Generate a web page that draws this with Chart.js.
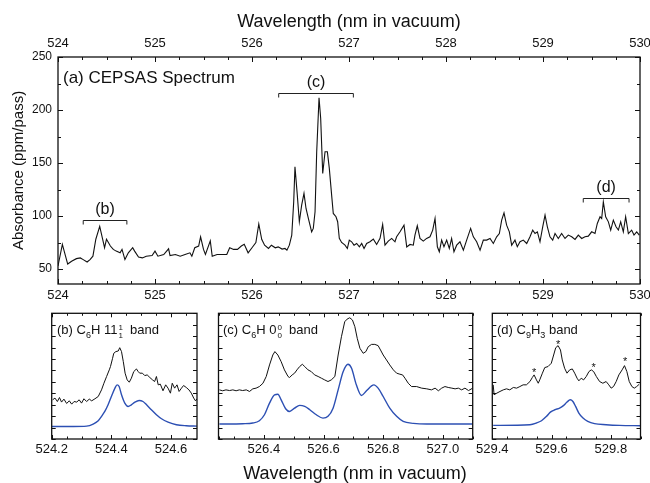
<!DOCTYPE html>
<html>
<head>
<meta charset="utf-8">
<script src="https://cdn.jsdelivr.net/npm/chart.js@4.4.1/dist/chart.umd.min.js"></script>
<style>
body { margin: 0; background: #fff; font-family: "Liberation Sans", Arial, sans-serif; }
#wrap { position: relative; width: 650px; height: 483px; overflow: hidden; }
canvas { position: absolute; }
.lbl { position: absolute; white-space: nowrap; color: #111; line-height: 1; }
.lbl sub { font-size: 9px; vertical-align: -4px; line-height: 0; }
.ss { display: inline-block; vertical-align: -4px; font-size: 8px; line-height: 8px; text-align: center; margin-left: 1px; }
.ss span { display: block; }
</style>
</head>
<body>
<div id="wrap">
  <canvas id="main" width="650" height="310" style="left:0;top:0"></canvas>
  <canvas id="insetB" width="190" height="160" style="left:30px;top:300px"></canvas>
  <canvas id="insetC" width="300" height="160" style="left:196px;top:300px"></canvas>
  <canvas id="insetD" width="180" height="160" style="left:470px;top:300px"></canvas>

  <div class="lbl" style="left:63px;top:69px;font-size:17px">(a) CEPSAS Spectrum</div>
  <div class="lbl" style="left:57px;top:323px;font-size:13px">(b) C<sub>6</sub>H 11<span class="ss"><span>1</span><span>1</span></span>&nbsp; band</div>
  <div class="lbl" style="left:223px;top:323px;font-size:13px">(c) C<sub>6</sub>H 0<span class="ss"><span>0</span><span>0</span></span>&nbsp; band</div>
  <div class="lbl" style="left:497px;top:323px;font-size:13px">(d) C<sub>9</sub>H<sub>3</sub> band</div>
  <div class="lbl" style="left:355px;top:464px;font-size:18px;transform:translateX(-50%)">Wavelength (nm in vacuum)</div>
</div>

<script>
// (a) full CEPSAS spectrum
const mainWl = [
  524.00, 524.045, 524.10, 524.14, 524.19, 524.23, 524.26, 524.30, 524.33, 524.36,
  524.39, 524.43, 524.46, 524.48, 524.50, 524.54, 524.57, 524.60, 524.64, 524.66,
  524.69, 524.725, 524.77, 524.79, 524.83, 524.87, 524.91, 524.97, 525.00, 525.03,
  525.09, 525.14, 525.155, 525.21, 525.26, 525.31, 525.36, 525.38, 525.41, 525.45,
  525.47, 525.50, 525.52, 525.57, 525.59, 525.64, 525.69, 525.74, 525.77, 525.81,
  525.85, 525.89, 525.92, 525.96, 526.00, 526.04, 526.07, 526.10,
  526.13, 526.17, 526.20, 526.24, 526.27, 526.31, 526.34, 526.36, 526.385, 526.41,
  526.43, 526.443, 526.467, 526.488, 526.512, 526.536, 526.557, 526.581, 526.598, 526.615,
  526.632, 526.65, 526.667, 526.691, 526.708, 526.729, 526.753, 526.777, 526.797, 526.821,
  526.838, 526.866, 526.883, 526.90, 526.924, 526.959, 526.983, 527.003, 527.027, 527.052,
  527.079, 527.107, 527.131, 527.155, 527.182, 527.216, 527.251, 527.285, 527.32, 527.347,
  527.371, 527.405, 527.44, 527.474, 527.491, 527.526, 527.567, 527.595, 527.629, 527.663,
  527.68, 527.704, 527.732, 527.766, 527.80,
  527.835, 527.863, 527.887, 527.911, 527.931, 527.955, 527.979, 528.007, 528.034, 528.058,
  528.082, 528.11, 528.144, 528.179, 528.213, 528.254, 528.282, 528.316, 528.351, 528.385,
  528.419, 528.454, 528.488, 528.522, 528.55, 528.574, 528.598, 528.625, 528.653, 528.677,
  528.711, 528.735, 528.763, 528.797, 528.832, 528.866, 528.894, 528.918, 528.942, 528.969,
  528.997, 529.021, 529.045, 529.072, 529.10, 529.124, 529.158, 529.192, 529.227, 529.261,
  529.296, 529.33, 529.364, 529.399, 529.433, 529.467, 529.502, 529.536, 529.56, 529.588,
  529.605, 529.622, 529.646, 529.674, 529.698, 529.725, 529.753, 529.777, 529.801, 529.828,
  529.852, 529.88, 529.914, 529.938, 529.966, 529.993
];
const mainAbs = [
  53.0, 73.4, 54.8, 57.4, 59.9, 60.6, 59.0, 56.7, 59.0, 62.2,
  78.2, 90.4, 78.2, 70.2, 78.2, 71.8, 68.6, 67.0, 65.4, 68.6,
  59.0, 65.4, 70.2, 67.0, 61.5, 60.6, 62.2, 62.8, 67.0, 62.2,
  63.8, 69.2, 62.8, 63.8, 62.2, 63.8, 65.4, 62.2, 70.2, 71.8,
  80.4, 68.6, 63.8, 76.6, 62.2, 63.8, 63.8, 63.8, 70.2, 68.6,
  68.6, 71.8, 73.4, 65.4, 70.2, 75.0, 92.6, 78.2,
  72.6, 69.5, 72.6, 70.1, 71.0, 68.9, 69.5, 67.9, 72.6, 82.1,
  113.5, 146.5, 119.8, 94.7, 110.4, 121.4, 107.2, 97.8, 91.5, 85.2,
  88.4, 104.1, 160.7, 211.6, 192.2, 140.2, 160.7, 160.7, 145.0, 119.8,
  102.5, 99.4, 94.7, 79.0, 75.2, 72.6, 69.5, 77.4, 75.8, 72.6,
  74.2, 71.0, 74.2, 69.5, 74.2, 75.8, 78.3, 73.3, 79.0, 92.1,
  72.6, 76.4, 79.0, 75.8, 80.5, 85.2, 91.5, 71.0, 73.3, 72.6,
  82.1, 90.9, 79.0, 76.4, 79.0,
  80.5, 86.8, 97.8, 71.1, 66.4, 77.4, 71.1, 77.4, 69.5, 78.9,
  66.4, 72.6, 75.8, 67.9, 77.4, 88.4, 80.5, 75.8, 67.9, 77.4,
  77.4, 78.9, 74.2, 80.5, 83.6, 96.2, 103.1, 91.5, 85.2, 72.6,
  77.4, 71.1, 75.8, 77.4, 74.2, 80.5, 86.8, 83.6, 85.2, 75.8,
  89.9, 100.9, 89.9, 80.5, 77.4, 83.6, 78.9, 83.6, 78.9, 82.1,
  80.5, 78.0, 82.1, 78.9, 80.5, 81.1, 85.2, 83.6, 93.1, 99.4,
  97.8, 113.5, 99.4, 94.6, 86.8, 96.2, 89.9, 86.8, 94.6, 85.2,
  99.4, 83.6, 86.8, 82.1, 85.2, 82.1
];
const mainXTicks = [524, 525, 526, 527, 528, 529, 530];
const mainYTicks = [50, 100, 150, 200, 250];

// bracket marks over the three zoomed bands
const bracketLabels = ['(b)', '(c)', '(d)'];
const bracketStart = [524.26, 526.275, 529.415];
const bracketEnd = [524.71, 527.045, 529.887];
const bracketLevel = [96, 216, 117];

// (b) C6H 11^1_1 band: measured and simulated
const bWl = [
  524.203, 524.211, 524.219, 524.226, 524.233, 524.241, 524.25, 524.259, 524.267, 524.275,
  524.284, 524.292, 524.30, 524.308, 524.317, 524.326, 524.334, 524.345, 524.356, 524.367,
  524.375, 524.384, 524.393, 524.397, 524.404, 524.408, 524.415, 524.423, 524.428, 524.434,
  524.44, 524.446, 524.453, 524.46, 524.467, 524.475, 524.484, 524.49, 524.495, 524.504,
  524.512, 524.52, 524.529, 524.538, 524.545, 524.551, 524.557, 524.564, 524.573, 524.582,
  524.59, 524.598, 524.604, 524.612, 524.62, 524.627, 524.635, 524.642, 524.651, 524.66,
  524.668, 524.676, 524.682, 524.687
];
const bObs = [
  3.43, 3.58, 3.28, 3.63, 3.23, 3.49, 3.11, 3.34, 3.05, 3.28,
  3.23, 3.43, 3.14, 3.52, 3.28, 3.49, 3.34, 3.52, 3.72, 4.30,
  4.88, 5.47, 6.05, 6.34, 7.06, 7.50, 7.65, 7.70, 7.99, 7.65,
  6.77, 5.76, 5.17, 4.97, 5.32, 5.90, 6.13, 5.90, 5.76, 5.76,
  5.55, 5.61, 5.38, 5.17, 5.03, 5.47, 4.74, 4.80, 4.22, 4.74,
  4.45, 4.01, 4.88, 4.45, 4.74, 4.16, 4.45, 4.68, 4.51, 4.30,
  4.01, 3.58, 3.34, 3.52
];
const bSimWl = [
  524.2, 524.272, 524.317, 524.339, 524.356, 524.367, 524.378, 524.389, 524.40, 524.412,
  524.419, 524.426, 524.434, 524.445, 524.456, 524.467, 524.479, 524.493, 524.506, 524.518,
  524.534, 524.551, 524.568, 524.59, 524.618, 524.651, 524.687
];
const bSim = [
  1.10, 1.10, 1.13, 1.31, 1.60, 1.98, 2.41, 2.99, 3.72, 4.45,
  4.74, 4.59, 3.87, 3.14, 2.85, 2.99, 3.23, 3.37, 3.28, 2.99,
  2.56, 2.12, 1.77, 1.48, 1.25, 1.16, 1.13
];
const bXTicks = [524.2, 524.4, 524.6];

// (c) C6H 0^0_0 band
const cWl = [
  526.251, 526.262, 526.273, 526.285, 526.296, 526.307, 526.318, 526.329, 526.341, 526.352,
  526.363, 526.374, 526.385, 526.397, 526.408, 526.419, 526.43, 526.437, 526.447, 526.458,
  526.469, 526.481, 526.486, 526.495, 526.503, 526.511, 526.52, 526.529, 526.537, 526.548,
  526.559, 526.57, 526.582, 526.593, 526.604, 526.615, 526.626, 526.638, 526.649, 526.66,
  526.671, 526.679, 526.688, 526.697, 526.705, 526.713, 526.722, 526.733, 526.742, 526.75,
  526.761, 526.772, 526.783, 526.791, 526.80, 526.811, 526.822, 526.834, 526.845, 526.856,
  526.865, 526.873, 526.884, 526.895, 526.912, 526.929, 526.946, 526.962, 526.974, 526.985,
  526.996, 527.007, 527.018, 527.03, 527.041, 527.052, 527.063, 527.074, 527.086, 527.10
];
const cObs = [
  4.30, 4.22, 4.30, 4.24, 4.30, 4.22, 4.30, 4.24, 4.30, 4.16,
  4.39, 4.45, 4.59, 4.88, 5.47, 6.48, 7.35, 7.65, 7.35, 6.77,
  6.05, 5.47, 5.38, 5.61, 5.76, 6.05, 6.34, 6.54, 6.34, 6.05,
  5.90, 5.61, 5.47, 5.32, 5.17, 5.03, 5.17, 5.47, 7.35, 8.95,
  10.26, 10.49, 10.61, 10.41, 9.83, 8.81, 7.94, 7.50, 7.65, 8.08,
  8.28, 8.28, 8.17, 7.79, 7.35, 6.92, 6.48, 6.05, 5.76, 5.67,
  5.61, 5.32, 4.88, 4.59, 4.59, 4.45, 4.39, 4.30, 4.45, 4.22,
  4.45, 4.59, 4.51, 4.45, 4.39, 4.45, 4.30, 4.45, 4.24, 4.45
];
const cSimWl = [
  526.251, 526.329, 526.363, 526.385, 526.402, 526.419, 526.436, 526.447, 526.458, 526.473,
  526.486, 526.503, 526.52, 526.537, 526.554, 526.576, 526.598, 526.615, 526.632, 526.649,
  526.666, 526.682, 526.694, 526.71, 526.727, 526.744, 526.761, 526.769, 526.783, 526.80,
  526.822, 526.845, 526.867, 526.901, 526.946, 527.10
];
const cSim = [
  1.31, 1.34, 1.40, 1.60, 2.12, 3.14, 3.87, 3.92, 3.43, 2.65,
  2.41, 2.70, 2.94, 2.85, 2.56, 2.12, 1.83, 1.98, 2.70, 4.30,
  5.90, 6.54, 6.19, 4.74, 3.81, 4.22, 4.65, 4.74, 4.45, 3.72,
  2.70, 1.98, 1.54, 1.37, 1.31, 1.31
];
const cXTicks = [526.4, 526.6, 526.8, 527.0];

// (d) C9H3 band
const dWl = [
  529.403, 529.406, 529.415, 529.426, 529.437, 529.448, 529.459, 529.471, 529.482, 529.493,
  529.504, 529.515, 529.527, 529.535, 529.541, 529.549, 529.555, 529.56, 529.569, 529.577,
  529.588, 529.599, 529.607, 529.614, 529.622, 529.63, 529.636, 529.644, 529.652, 529.661,
  529.67, 529.678, 529.686, 529.692, 529.70, 529.708, 529.717, 529.726, 529.734, 529.742,
  529.751, 529.762, 529.773, 529.784, 529.793, 529.801, 529.809, 529.818, 529.827, 529.838,
  529.846, 529.854, 529.862, 529.871, 529.879, 529.887, 529.896
];
const dObs = [
  4.74, 3.87, 4.01, 4.16, 4.30, 4.39, 4.30, 4.51, 4.45, 4.59,
  4.74, 4.74, 5.03, 5.38, 5.61, 5.17, 4.88, 5.17, 5.76, 6.25,
  6.34, 6.63, 7.35, 7.99, 8.17, 7.79, 6.92, 6.19, 5.76, 6.05,
  6.13, 5.76, 5.32, 5.09, 5.32, 5.17, 5.47, 5.90, 6.05, 5.90,
  5.47, 5.03, 4.88, 5.03, 4.74, 4.45, 4.59, 5.03, 5.61, 6.05,
  6.42, 5.90, 5.03, 4.59, 4.45, 4.59, 4.80
];
const dSimWl = [
  529.403, 529.527, 529.549, 529.566, 529.583, 529.596, 529.611, 529.627, 529.641, 529.652,
  529.663, 529.672, 529.681, 529.692, 529.706, 529.722, 529.745, 529.784, 529.829, 529.902
];
const dSim = [
  1.19, 1.25, 1.40, 1.60, 1.98, 2.35, 2.56, 2.70, 2.94, 3.23,
  3.43, 3.28, 2.85, 2.27, 1.83, 1.54, 1.34, 1.25, 1.19, 1.16
];
const dStarWl = [529.541, 529.622, 529.742, 529.848];
const dStarY = [6.05, 8.52, 6.48, 6.98];
const dXTicks = [529.4, 529.6, 529.8];

const FONT = '"Liberation Sans", Arial, sans-serif';
const INK = '#111';
const BLUE = '#2c4fb3';

function pts(xs, ys) {
  return xs.map((x, i) => ({ x: x, y: ys[i] }));
}

function marks(min, max, step, major) {
  const out = [];
  for (let i = Math.ceil(min / step - 1e-6); i * step <= max + 1e-6; i++) {
    const v = i * step;
    const r = v / major;
    out.push({ v: v, maj: Math.abs(r - Math.round(r)) < 1e-6 });
  }
  return out;
}

// keep tick labels from pushing the plot area in
function noSidePad(s) {
  s.paddingLeft = 0;
  s.paddingRight = 0;
}

// box frame with inward ticks on all four sides
const framePlugin = {
  id: 'frame',
  afterDatasetsDraw(chart, args, o) {
    const { ctx, chartArea: a } = chart;
    const xs = chart.scales.x, ys = chart.scales.y;
    ctx.save();
    ctx.strokeStyle = INK;
    ctx.lineWidth = 1;
    ctx.beginPath();
    marks(xs.min, xs.max, o.xStep, o.xMajor).forEach(m => {
      const p = Math.round(xs.getPixelForValue(m.v)) + 0.5;
      const len = m.maj ? o.majLen : o.minLen;
      ctx.moveTo(p, a.bottom); ctx.lineTo(p, a.bottom - len);
      ctx.moveTo(p, a.top); ctx.lineTo(p, a.top + len);
    });
    marks(ys.min, ys.max, o.yStep, o.yMajor).forEach(m => {
      const p = Math.round(ys.getPixelForValue(m.v)) + 0.5;
      const len = m.maj ? o.majLen : o.minLen;
      ctx.moveTo(a.left, p); ctx.lineTo(a.left + len, p);
      ctx.moveTo(a.right, p); ctx.lineTo(a.right - len, p);
    });
    ctx.stroke();
    ctx.lineWidth = 1.3;
    ctx.strokeRect(a.left, a.top, a.right - a.left, a.bottom - a.top);
    ctx.restore();
  }
};

// brackets and asterisks placed in data coordinates
const notesPlugin = {
  id: 'notes',
  afterDatasetsDraw(chart, args, o) {
    const { ctx } = chart;
    const xs = chart.scales.x, ys = chart.scales.y;
    ctx.save();
    ctx.strokeStyle = '#222';
    ctx.fillStyle = INK;
    ctx.lineWidth = 1;
    ctx.textAlign = 'center';
    ctx.textBaseline = 'middle';
    (o.brackets || []).forEach(b => {
      const x0 = xs.getPixelForValue(b.x0), x1 = xs.getPixelForValue(b.x1);
      const y = Math.round(ys.getPixelForValue(b.y)) + 0.5;
      ctx.beginPath();
      ctx.moveTo(x0, y + 4); ctx.lineTo(x0, y); ctx.lineTo(x1, y); ctx.lineTo(x1, y + 4);
      ctx.stroke();
      ctx.font = '16px ' + FONT;
      ctx.fillText(b.text, (x0 + x1) / 2, y - 11);
    });
    (o.stars || []).forEach(s => {
      ctx.font = '11px ' + FONT;
      ctx.fillText('*', xs.getPixelForValue(s.x), ys.getPixelForValue(s.y) + 3);
    });
    ctx.restore();
  }
};

Chart.register(framePlugin, notesPlugin);

const base = {
  responsive: false,
  animation: false,
  events: [],
  plugins: { legend: { display: false }, tooltip: { enabled: false } }
};
const noGrid = { display: false, drawTicks: false };

// main spectrum
new Chart(document.getElementById('main'), {
  type: 'line',
  data: {
    datasets: [{
      data: pts(mainWl, mainAbs),
      borderColor: INK, borderWidth: 1.1, pointRadius: 0, tension: 0
    }]
  },
  options: Object.assign({}, base, {
    layout: { padding: { right: 10 } },
    scales: {
      x: {
        type: 'linear', position: 'bottom', min: 524, max: 530,
        grid: noGrid, border: { display: false },
        ticks: { color: INK, font: { family: FONT, size: 13 }, padding: 4, callback: v => v.toFixed(0) },
        afterBuildTicks: s => { s.ticks = mainXTicks.map(v => ({ value: v })); },
        afterFit: s => { s.height = 26; noSidePad(s); }
      },
      xTop: {
        type: 'linear', position: 'top', min: 524, max: 530,
        grid: noGrid, border: { display: false },
        ticks: { color: INK, font: { family: FONT, size: 13 }, padding: 6, callback: v => v.toFixed(0) },
        title: { display: true, text: 'Wavelength (nm in vacuum)', color: INK, font: { family: FONT, size: 18 }, padding: { top: 11, bottom: 0 } },
        afterBuildTicks: s => { s.ticks = mainXTicks.map(v => ({ value: v })); },
        afterFit: s => { s.height = 57; noSidePad(s); }
      },
      y: {
        type: 'linear', position: 'left', min: 36, max: 250,
        grid: noGrid, border: { display: false },
        ticks: { color: INK, font: { family: FONT, size: 12 }, padding: 6 },
        title: { display: true, text: 'Absorbance (ppm/pass)', color: INK, font: { family: FONT, size: 15 }, padding: { top: 10, bottom: 0 } },
        afterBuildTicks: s => { s.ticks = mainYTicks.map(v => ({ value: v })); },
        afterFit: s => { s.width = 58; }
      }
    },
    plugins: Object.assign({}, base.plugins, {
      frame: { xStep: 0.25, xMajor: 1, yStep: 25, yMajor: 50, majLen: 5, minLen: 3 },
      notes: {
        brackets: bracketLabels.map((t, i) => ({ text: t, x0: bracketStart[i], x1: bracketEnd[i], y: bracketLevel[i] }))
      }
    })
  })
});

function inset(id, xMin, xMax, xTicks, padL, padR, obs, sim, stars) {
  new Chart(document.getElementById(id), {
    type: 'line',
    data: {
      datasets: [
        { data: obs, borderColor: INK, borderWidth: 1, pointRadius: 0, tension: 0 },
        { data: sim, borderColor: BLUE, borderWidth: 1.4, pointRadius: 0, tension: 0.4, cubicInterpolationMode: 'monotone' }
      ]
    },
    options: Object.assign({}, base, {
      layout: { padding: { left: padL, right: padR, top: 13.3, bottom: 0 } },
      scales: {
        x: {
          type: 'linear', position: 'bottom', min: xMin, max: xMax,
          grid: noGrid, border: { display: false },
          ticks: { color: INK, font: { family: FONT, size: 13 }, padding: 3, callback: v => v.toFixed(1) },
          afterBuildTicks: s => { s.ticks = xTicks.map(v => ({ value: v })); },
          afterFit: s => { s.height = 21; noSidePad(s); }
        },
        y: { type: 'linear', display: false, min: 0, max: 11 }
      },
      plugins: Object.assign({}, base.plugins, {
        frame: { xStep: 0.05, xMajor: 0.2, yStep: 1, yMajor: 1, majLen: 4, minLen: 2.5 },
        notes: { stars: stars || [] }
      })
    })
  });
}

inset('insetB', 524.2, 524.687, bXTicks, 21.7, 23, pts(bWl, bObs), pts(bSimWl, bSim));
inset('insetC', 526.248, 527.1, cXTicks, 22.5, 23.3, pts(cWl, cObs), pts(cSimWl, cSim));
inset('insetD', 529.4, 529.9, dXTicks, 22.3, 9.5, pts(dWl, dObs), pts(dSimWl, dSim),
  dStarWl.map((x, i) => ({ x: x, y: dStarY[i] })));
</script>
</body>
</html>
